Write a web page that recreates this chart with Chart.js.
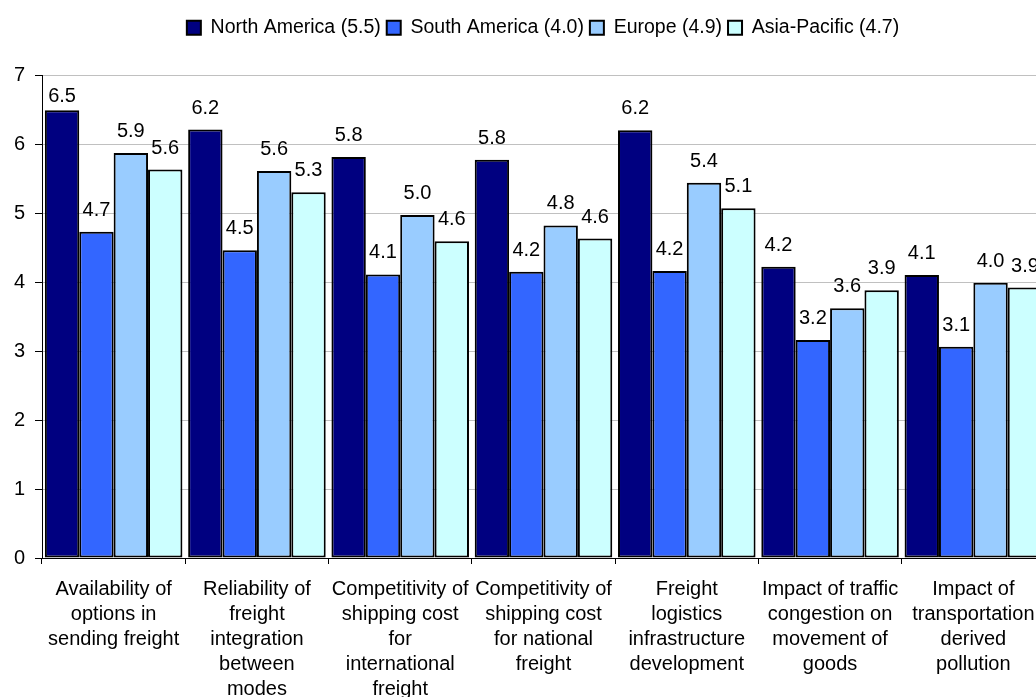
<!DOCTYPE html>
<html>
<head>
<meta charset="utf-8">
<script src="https://cdn.jsdelivr.net/npm/chart.js@4/dist/chart.umd.min.js"></script>
<style>
  html, body { margin: 0; padding: 0; background: #fff; overflow: hidden; }
  #wrap { width: 1086px; height: 697px; }
</style>
</head>
<body>
<div id="wrap"><canvas id="c" width="1086" height="697"></canvas></div>
<script>
const categories = [
  ["Availability of", "options in", "sending freight"],
  ["Reliability of", "freight", "integration", "between", "modes"],
  ["Competitivity of", "shipping cost", "for", "international", "freight"],
  ["Competitivity of", "shipping cost", "for national", "freight"],
  ["Freight", "logistics", "infrastructure", "development"],
  ["Impact of traffic", "congestion on", "movement of", "goods"],
  ["Impact of", "transportation", "derived", "pollution"]
];
const seriesNames = ["North America (5.5)", "South America (4.0)", "Europe (4.9)", "Asia-Pacific (4.7)"];
const northAmerica = [6.49, 6.21, 5.81, 5.77, 6.20, 4.22, 4.10];
const southAmerica = [4.73, 4.46, 4.11, 4.15, 4.16, 3.16, 3.06];
const europe       = [5.87, 5.61, 4.97, 4.82, 5.44, 3.62, 3.99];
const asiaPacific  = [5.63, 5.30, 4.59, 4.63, 5.07, 3.88, 3.92];
const yTicks = [0, 1, 2, 3, 4, 5, 6, 7];

const colors = ["#000080", "#3366FF", "#99CCFF", "#CCFFFF"];
const FONT = "'Liberation Sans', Arial, sans-serif";
const values = [northAmerica, southAmerica, europe, asiaPacific];

const datasets = seriesNames.map((name, i) => ({
  label: name,
  data: values[i],
  backgroundColor: colors[i],
  borderColor: "#000",
  borderWidth: 2,
  borderSkipped: false,
  categoryPercentage: 0.96,
  barPercentage: 1.0
}));

const legendHeightPlugin = {
  id: 'legendHeight',
  beforeLayout(chart) {
    const lg = chart.legend;
    if (lg && !lg._patched) {
      const f = lg.fit;
      lg.fit = function () { f.call(this); this.height = 63; };
      lg._patched = true;
    }
  }
};

const valueLabels = {
  id: 'valueLabels',
  afterDatasetsDraw(chart) {
    const ctx = chart.ctx;
    ctx.save();
    ctx.font = "20px " + FONT;
    ctx.fillStyle = "#000";
    ctx.textAlign = "center";
    ctx.textBaseline = "alphabetic";
    chart.data.datasets.forEach((ds, di) => {
      const meta = chart.getDatasetMeta(di);
      meta.data.forEach((el, i) => {
        const v = ds.data[i];
        const txt = (Math.round(v * 10) / 10).toFixed(1);
        const y = Math.max(el.y - 16, chart.chartArea.top + 27);
        ctx.fillText(txt, el.x, y);
      });
    });
    ctx.restore();
  }
};

new Chart(document.getElementById('c'), {
  type: 'bar',
  data: { labels: categories, datasets },
  options: {
    responsive: false,
    animation: false,
    devicePixelRatio: 1,
    layout: { padding: { top: 12, left: 0, right: 0, bottom: 0 } },
    plugins: {
      legend: {
        position: 'top',
        labels: {
          font: { family: FONT, size: 19.5 },
          color: "#000",
          boxWidth: 14,
          boxHeight: 14,
          padding: 6,
          generateLabels(chart) {
            return chart.data.datasets.map((ds, i) => ({
              text: ds.label,
              fillStyle: ds.backgroundColor,
              strokeStyle: "#000",
              lineWidth: 2,
              datasetIndex: i,
              hidden: false,
              fontColor: "#000"
            }));
          }
        }
      },
      tooltip: { enabled: false }
    },
    scales: {
      x: {
        grid: { display: true, drawOnChartArea: false, drawTicks: true, tickLength: 6, tickColor: "#000", offset: true },
        border: { display: true, color: "#000", width: 1 },
        ticks: { font: { family: FONT, size: 20, lineHeight: 1.25 }, color: "#000", maxRotation: 0, minRotation: 0, autoSkip: false, padding: 13 },
        afterFit(s) { s.height = 139; }
      },
      y: {
        min: 0, max: 7,
        afterBuildTicks(s) { s.ticks = yTicks.map(v => ({ value: v })); },
        grid: { color: "#c0c0c0", lineWidth: 1, drawTicks: true, tickLength: 7, tickColor: "#000" },
        border: { display: true, color: "#000", width: 1 },
        ticks: { font: { family: FONT, size: 20 }, color: "#000", padding: 10 },
        afterFit(s) { s.width = 42; }
      },
      yRight: {
        type: 'linear',
        position: 'right',
        display: true,
        grid: { display: false, drawOnChartArea: false, drawTicks: false },
        border: { display: false },
        ticks: { display: false },
        afterFit(s) { s.width = 41; }
      }
    }
  },
  plugins: [legendHeightPlugin, valueLabels]
});
</script>
</body>
</html>
